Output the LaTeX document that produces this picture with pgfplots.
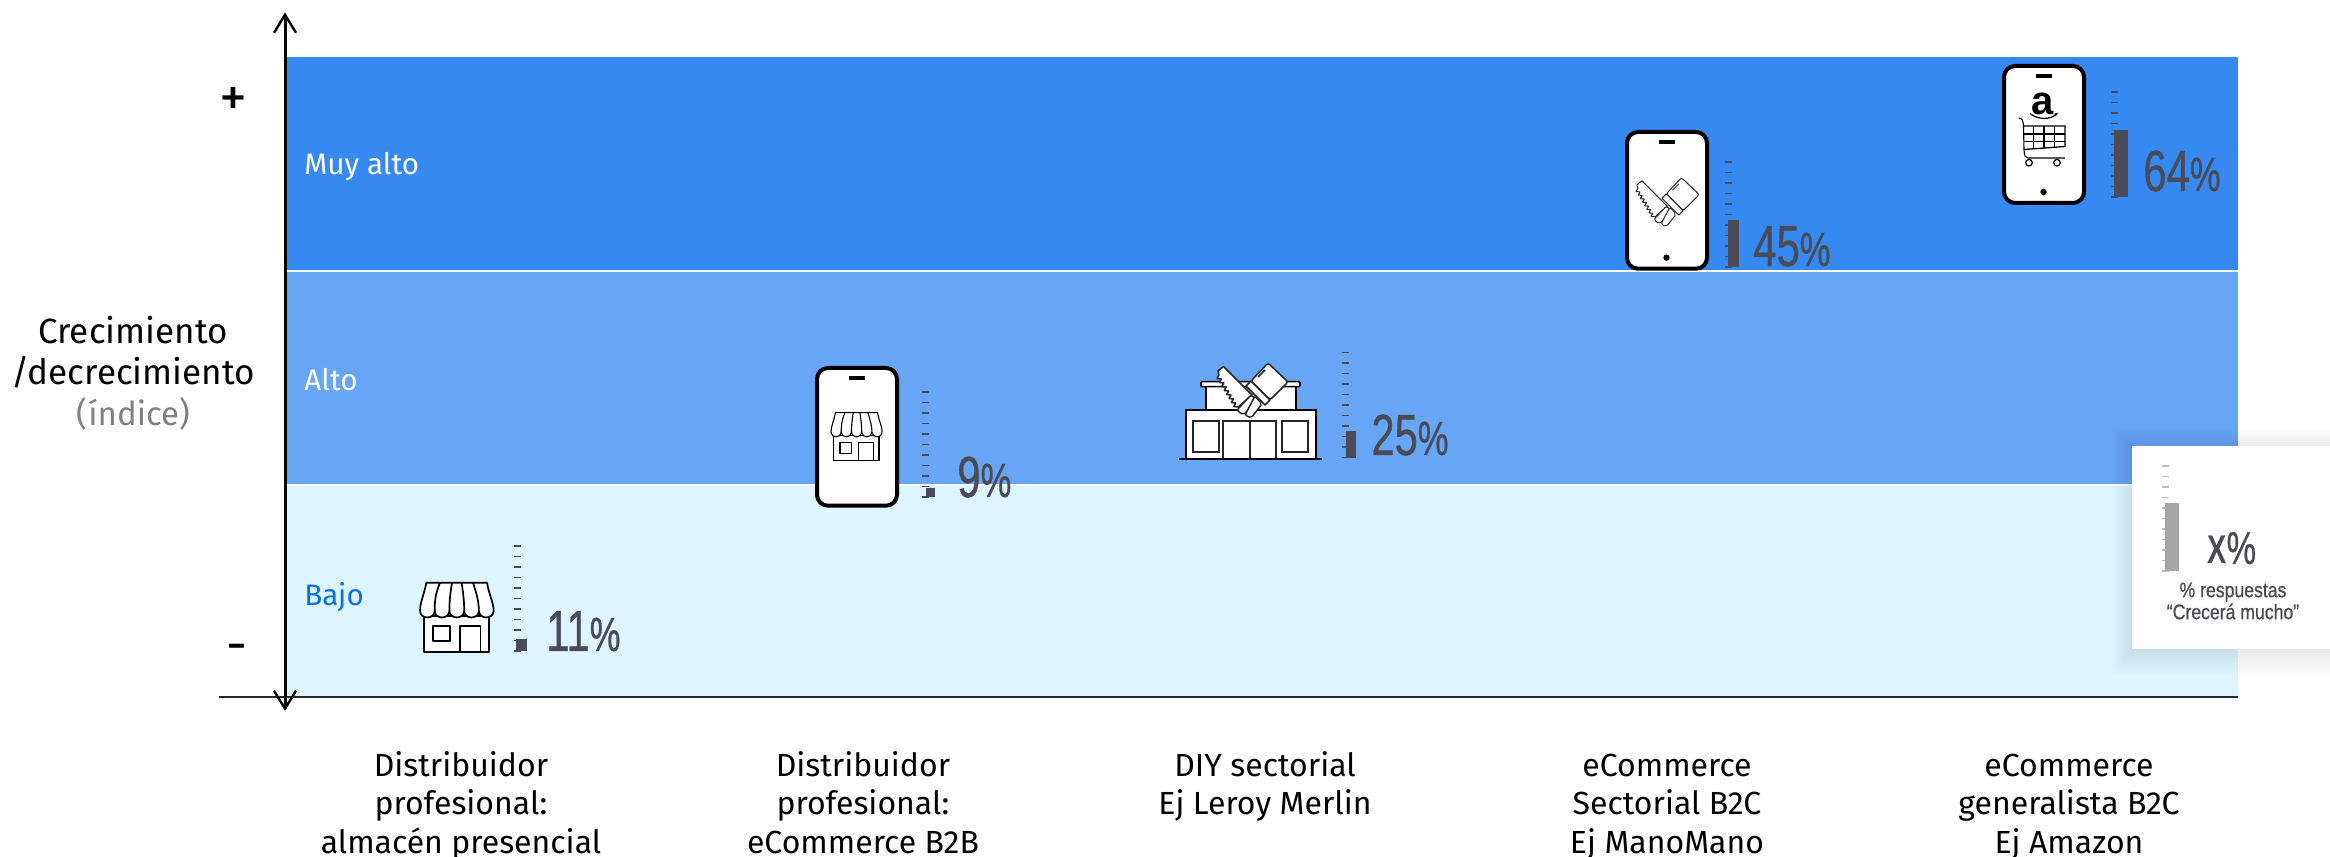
\documentclass[border=0pt]{standalone}
\usepackage{pgfplots}
\pgfplotsset{compat=1.18}
\usepackage{fontspec}
\usetikzlibrary{arrows.meta}
\setmainfont{Fira Sans}
\newfontfamily\cond{Liberation Sans}[FakeBold=0.8]
\newfontfamily\logofont{Liberation Sans}

\definecolor{bandhigh}{HTML}{3589F0}
\definecolor{bandmid}{HTML}{66A6F5}
\definecolor{bandlow}{HTML}{DDF5FF}
\definecolor{lowtext}{HTML}{0A6FE0}
\definecolor{gaugedark}{HTML}{4A4B57}
\definecolor{gaugegrey}{HTML}{A6A6A6}
\definecolor{gaugetick}{HTML}{BDBDBD}

% Condensed figures used for the percentages
\newcommand{\bignum}[2]{\scalebox{0.72}[1]{\cond\fontsize{#1}{#1}\selectfont #2}}
\newcommand{\pct}[3]{\textcolor{gaugedark}{\bignum{#1}{#2}\bignum{#3}{\%}}}
\newcommand{\smallnum}[1]{\scalebox{0.84}[1]{\cond\fontsize{10.5}{10.5}\selectfont #1}}

% Small gauge: left x, base y, value, bar offset, bar width, bar colour, tick colour
\newcommand{\gauge}[7]{%
\begin{axis}[at={(#1*0.5pt,{(857-#2)*0.5pt})},anchor=south west,scale only axis,
  width=20pt,height=52.5pt,xmin=0,xmax=40,ymin=0,ymax=100,clip=false,
  axis y line=left,axis x line=none,y axis line style={draw=none},
  ytick={0,10,...,100},yticklabels={},tick align=inside,major tick length=3.5pt,
  tick style={line width=0.7pt,color=#7}]
\addplot[ybar,bar width=#5*0.5pt,fill=#6,draw=none] coordinates {({#4+#5/2},#3)};
\end{axis}}

% Storefront with awning; origin at the top left of the awning
\newcommand{\store}[4]{%
\begin{scope}[shift={(#1,#2)},scale=#3,line width=#4,line join=round]
\draw[fill=white] (4,33) rectangle (69,69);
\draw[fill=white] (13,43) rectangle (30,58.3);
\draw[fill=white] (40,43) rectangle (60.6,69);
\draw[fill=white] (6.4,0) -- (67,0) .. controls (69,12) and (73.6,20) .. (73.6,28)
  .. controls (73.6,37) and (59,37) .. (58.9,28)
  .. controls (58.9,37) and (44.2,37) .. (44.2,28)
  .. controls (44.2,37) and (29.4,37) .. (29.4,28)
  .. controls (29.4,37) and (14.7,37) .. (14.7,28)
  .. controls (14.7,37) and (0,37) .. (0,28)
  .. controls (0,20) and (4,12) .. (6.4,0) -- cycle;
\draw (20,0) .. controls (15,12) and (14.7,20) .. (14.7,28);
\draw (32,0) .. controls (30,12) and (29.4,20) .. (29.4,28);
\draw (41.6,0) .. controls (43.5,12) and (44.2,20) .. (44.2,28);
\draw (53,0) .. controls (57,12) and (58.9,20) .. (58.9,28);
\end{scope}}

% Saw crossed with a paintbrush; origin at the top left of the pair
\newcommand{\tools}[4]{%
\begin{scope}[shift={(#1,#2)},scale=#3,line width=#4,line join=round,draw=black!85]
\draw[fill=white] (1,12) -- (0,8) -- (5.5,3.5) -- (34,32) -- (20.2,44) -- (15.8,43.5) -- (17.8,40)
 -- (13.4,39.5) -- (15.4,36) -- (11,35.5) -- (13,32) -- (8.6,31.5) -- (10.6,28) -- (6.2,27.5)
 -- (8.2,24) -- (3.8,23.5) -- (5.8,20) -- (1.4,19.5) -- (3.4,16) -- (-1,15.5) -- cycle;
\draw[fill=white,rounded corners=1pt] (19,47) -- (33,32) -- (40,38) -- (25,52) -- cycle;
\draw[fill=white,rounded corners=1.2pt] (50,0) -- (70,19) -- (52,37) -- (33,18) -- cycle;
\draw[fill=white] (28,23) -- (33,18) -- (52,37) -- (47,42) -- cycle;
\draw[fill=white,rounded corners=1pt] (37,33) -- (44,41) -- (33,55) -- (27,52) -- cycle;
\draw (47,7) -- (40,14);
\end{scope}}

% Phone outline: left, top, right, bottom, optional home dot at #5
\newcommand{\phone}[5]{%
\draw[black,line width=2pt,fill=white,rounded corners=5.5pt] (#1+2,#2+2) rectangle (#3-2,#4-2);
\fill[black] ({(#1+#3)/2-8},#2+10.5) rectangle ({(#1+#3)/2+8},#2+14.5);
\ifnum#5=1 \fill[black] ({(#1+#3)/2-0.5},#4-13) circle[radius=3.2];\fi}

\begin{document}
\begin{tikzpicture}[px/.style={x=0.5pt,y=-0.5pt,yshift=428.5pt}]
\path[use as bounding box] (0,0) rectangle (1165pt,428.5pt);

% Bands and category labels
\begin{axis}[at={(142.5pt,80pt)},anchor=south west,scale only axis,
  width=976.5pt,height=320pt,xmin=-0.4378,xmax=4.4204,ymin=0,ymax=640,
  clip=false,axis line style={draw=none},major tick length=0pt,
  ytick=\empty,xtick={0,1,2,3,4},
  xticklabels={{\strut Distribuidor\\profesional:\\almacén presencial},
    {\strut Distribuidor\\profesional:\\eCommerce B2B},
    {\strut DIY sectorial\\Ej Leroy Merlin},
    {\strut eCommerce\\Sectorial B2C\\Ej ManoMano},
    {\strut eCommerce\\generalista B2C\\Ej Amazon}},
  xticklabel style={align=center,anchor=north,yshift=-22.5pt,
    font=\fontsize{16}{19.25}\selectfont}]
\addplot[fill=bandlow,draw=none] coordinates {(-0.4378,0)(4.4204,0)(4.4204,212)(-0.4378,212)} -- cycle;
\addplot[fill=bandmid,draw=none] coordinates {(-0.4378,212)(4.4204,212)(4.4204,426)(-0.4378,426)} -- cycle;
\addplot[fill=bandhigh,draw=none] coordinates {(-0.4378,426)(4.4204,426)(4.4204,640)(-0.4378,640)} -- cycle;
\addplot[white,line width=1pt] coordinates {(-0.4378,212)(4.4204,212)};
\addplot[white,line width=1pt] coordinates {(-0.4378,426)(4.4204,426)};
\end{axis}

\begin{scope}[px]
% Axes
\draw[line width=0.75pt,black!85] (219,697) -- (2238,697);
\draw[line width=1.5pt,black,{Straight Barb[length=9pt,width=11pt,line width=1.2pt]}-{Straight Barb[length=9pt,width=11pt,line width=1.2pt]}] (285,12.5) -- (285,711);

\begin{scope}[every node/.style={inner sep=0pt,font=\fontsize{17.5}{19}\selectfont}]
\node at (133,330) {Crecimiento};
\node at (133,372) {/decrecimiento};
\node[text=black!50,font=\fontsize{16.5}{19}\selectfont] at (133,414) {(índice)};
\node[font=\fontsize{28}{28}\selectfont] at (233,102) {+};
\node[font=\fontsize{26}{26}\selectfont] at (237,653) {-};
\node[anchor=base west,text=white,font=\fontsize{14.8}{17}\selectfont] at (304,175) {Muy alto};
\node[anchor=base west,text=white,font=\fontsize{14.8}{17}\selectfont] at (304,391) {Alto};
\node[anchor=base west,text=lowtext,font=\fontsize{14.8}{17}\selectfont] at (304,606) {Bajo};
\end{scope}

% Plain store
\store{420}{582.7}{1}{0.85pt}

% Store inside a phone
\phone{815}{366}{899}{507.7}{0}
\store{831}{412.7}{0.695}{0.55pt}

% DIY store with tools on top
\draw[line width=0.85pt,fill=white] (1206,385.7) rectangle (1295.7,412);
\draw[line width=0.8pt,fill=white,rounded corners=0.5pt] (1201,381.7) rectangle (1300,386.7);
\draw[line width=0.85pt,fill=white] (1185.7,410) rectangle (1315.7,458.7);
\draw[line width=0.85pt,black!85] (1192.7,421.3) rectangle (1218.7,452.3);
\draw[line width=0.85pt,black!85] (1282.3,421.3) rectangle (1308,452.3);
\draw[line width=0.85pt,black!85] (1223.3,458.7) -- (1223.3,421.3) -- (1276,421.3) -- (1276,458.7);
\draw[line width=0.85pt,black!85] (1249.7,421.3) -- (1249.7,458.7);
\draw[line width=1pt] (1179,459) -- (1321.7,459);
\tools{1218}{363}{1}{0.75pt}

% Tools inside a phone
\phone{1625}{130}{1709}{270.7}{1}
\tools{1637}{177.7}{0.89}{0.5pt}

% Amazon cart inside a phone
\phone{2002}{64}{2086}{205}{1}
\node[font=\logofont\bfseries\fontsize{20}{20}\selectfont,inner sep=0pt,anchor=base] at (2042.5,115) {a};
\draw[line width=0.6pt] (2030,113.5) .. controls (2038,120) and (2050,120) .. (2057,114);
\draw[line width=0.5pt,-{Stealth[length=2pt]}] (2054,115.5) -- (2058,113);
\draw[line width=0.55pt] (2018.8,118) .. controls (2022,118) and (2023,120) .. (2023.5,126)
  -- (2024,150) .. controls (2024.5,156) and (2025,158) .. (2028,158) -- (2065,158);
\draw[line width=0.65pt] (2023.5,126) -- (2065,126) -- (2065,146.5) -- (2024,149.5);
\foreach \xv in {2033.5,2044,2054.5} \draw[line width=0.6pt] (\xv,126) -- (\xv,148.5);
\foreach \yv in {134,141.5} \draw[line width=0.6pt] (2023.5,\yv) -- (2065,\yv);
\draw[line width=0.6pt] (2029,162.7) circle[radius=3.3];
\draw[line width=0.6pt] (2057,162.7) circle[radius=3.3];

% Legend card with a soft shadow
\foreach \i in {1,...,10}
  \fill[black,opacity=0.008] ({2132-2*\i},{448-2*\i}) rectangle (2330,{651+2.4*\i});
\fill[white] (2132,446) rectangle (2330,649);
\end{scope}

% Percentage gauges
\gauge{514.4}{651}{11}{2}{10.5}{gaugedark}{gaugedark}
\gauge{922}{497}{9}{3.5}{9.5}{gaugedark}{gaugedark}
\gauge{1342}{457.7}{25}{4}{10}{gaugedark}{gaugedark}
\gauge{1725.4}{267}{45}{3}{10.6}{gaugedark}{gaugedark}
\gauge{2111}{197}{64}{3}{14}{gaugedark}{gaugedark}
\gauge{2162}{571}{65}{3}{14}{gaugegrey}{gaugetick}

\begin{scope}[px,every node/.style={inner sep=0pt,anchor=base west}]
\node at (546,651) {\pct{29}{11}{24}};
\node at (957,497) {\pct{29}{9}{24}};
\node at (1371,455) {\pct{29}{25}{24}};
\node at (1753,266) {\pct{29}{45}{24}};
\node at (2143,191) {\pct{29}{64}{24}};
\node at (2207,564) {\textcolor{gaugedark}{\scalebox{0.72}[1]{\logofont\bfseries\fontsize{20}{20}\selectfont X}\bignum{23}{\%}}};
\node[anchor=center,align=center,text=gaugedark] at (2233,601) {\smallnum{\% respuestas}\\[-1pt]\smallnum{“Crecerá mucho”}};
\end{scope}
\end{tikzpicture}
\end{document}
